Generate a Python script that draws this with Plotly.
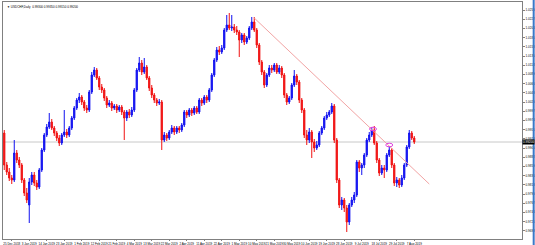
import pandas as pd
import plotly.graph_objects as go

symbol = "USDCHF,Daily"
start_date = "2018-12-20"

open_ = [0.99425,0.98625,0.9845,0.983,0.9825,0.98925,0.9875,0.98625,0.9825,0.97925,
 0.97625,0.982,0.98375,0.98175,0.98075,0.985,0.99,0.99375,0.99575,0.997,
 0.9955,0.99425,0.993,0.99175,0.99375,0.9945,0.99375,0.9955,0.998,1.0005,
 1.0025,1.00325,1.002,1.0005,1.0,1.0045,1.00875,1.01,1.008,1.00575,
 1.005,1.003,1.00125,1.00175,1.0005,1.001,1.0,1.00075,0.9995,0.998,
 0.9995,0.99875,1.0,1.005,1.01,1.01175,1.0095,1.01075,1.008,1.0055,
 1.00375,1.0025,1.00175,1.002,0.9925,0.99375,0.993,0.9945,0.9955,0.9945,
 0.9955,0.995,0.99625,0.9995,0.99875,1.0,0.99925,1.0005,0.9995,1.0025,
 1.00175,1.00325,1.0025,1.005,1.00875,1.0125,1.015,1.0145,1.0155,1.02,
 1.02125,1.0205,1.02075,1.02,1.0195,1.0175,1.01875,1.017,1.018,1.0205,
 1.022,1.02,1.01625,1.012,1.0095,1.00625,1.00875,1.0105,1.01,1.01125,
 1.0095,1.0105,1.00875,1.00375,1.002,1.003,1.00625,1.0085,1.007,1.0025,
 1.0,0.99375,0.9925,0.9945,0.992,0.9905,0.99125,0.99425,0.9955,0.998,
 0.99875,0.9995,1.001,0.9925,0.9825,0.97625,0.9775,0.9755,0.972,0.97625,
 0.9775,0.97875,0.987,0.9855,0.98625,0.98875,0.9925,0.99375,0.995,0.99175,
 0.9875,0.98425,0.9855,0.985,0.98875,0.99,0.98625,0.98175,0.9825,0.98125,
 0.983,0.98625,0.99075,0.99425,0.993]

high = [0.995,0.987,0.9855,0.98375,0.9925,0.99,0.98825,0.98675,0.983,0.9805,
 0.983,0.9845,0.9845,0.9825,0.9855,0.9905,0.99425,0.9965,0.99925,0.99775,
 0.996,0.99475,0.99375,0.99425,1.0,0.99525,0.996,0.9985,1.001,1.003,
 1.00425,1.00375,1.0025,1.00125,1.005,1.0095,1.01075,1.0105,1.0085,1.0065,
 1.0055,1.0035,1.0025,1.00225,1.0015,1.0015,1.00125,1.00125,1.0,1.0,
 1.00025,1.00075,1.0055,1.0105,1.01325,1.0125,1.013,1.01125,1.0085,1.00625,
 1.00425,1.003,1.00275,1.0025,0.9945,0.99425,0.995,0.99625,0.996,0.996,
 0.996,0.99675,1.0,1.0,1.0005,1.0005,1.001,1.001,1.003,1.003,
 1.00375,1.00375,1.0055,1.00925,1.013,1.01575,1.016,1.01625,1.0205,1.02375,
 1.02425,1.02375,1.0215,1.021,1.02,1.01925,1.01925,1.0185,1.021,1.02325,
 1.02325,1.0205,1.01675,1.0125,1.01,1.00925,1.01125,1.01125,1.01175,1.01175,
 1.01125,1.011,1.00925,1.00425,1.0035,1.00675,1.01,1.009,1.0075,1.003,
 1.0005,0.995,0.9955,0.995,0.99275,0.99225,0.99475,0.996,0.9985,0.9995,
 1.0,1.00175,1.0015,0.993,0.983,0.97825,0.978,0.97625,0.97675,0.97825,
 0.9795,0.9875,0.9875,0.98675,0.98925,0.993,0.9945,0.99575,0.996,0.99225,
 0.988,0.98625,0.98625,0.98925,0.991,0.9905,0.98675,0.98325,0.983,0.98375,
 0.98675,0.99125,0.995,0.99475,0.9935]

low = [0.985,0.98375,0.98225,0.9815,0.982,0.98675,0.9855,0.98175,0.9785,0.97675,
 0.97175,0.98125,0.981,0.98,0.98025,0.9845,0.9895,0.99325,0.99525,0.995,
 0.9935,0.99225,0.991,0.99125,0.99325,0.993,0.99325,0.995,0.9975,1.0,
 1.00175,1.00125,0.99975,0.99925,0.9995,1.004,1.00825,1.0075,1.005,1.00425,
 1.00225,1.0005,1.00075,0.99975,1.0,0.99925,0.9995,0.99875,0.9925,0.99725,
 0.998,0.99825,0.9995,1.0045,1.0095,1.00875,1.009,1.0075,1.00475,1.003,
 1.00175,1.001,1.00125,0.99,0.992,0.99225,0.9925,0.994,0.99375,0.994,
 0.99425,0.9945,0.99575,0.998,0.99825,0.9985,0.99875,0.999,0.999,1.001,
 1.00125,1.00175,1.002,1.0045,1.00825,1.012,1.01375,1.014,1.015,1.0195,
 1.02,1.01975,1.01925,1.01875,1.01325,1.01675,1.01625,1.0165,1.0175,1.02,
 1.0195,1.0155,1.01125,1.00875,1.0055,1.00575,1.00825,1.00925,1.0095,1.009,
 1.009,1.008,1.003,1.00125,1.0015,1.0025,1.00575,1.00625,1.00175,0.99925,
 0.993,0.99125,0.99175,0.988,0.9895,0.99,0.99075,0.99375,0.995,0.9975,
 0.99825,0.999,0.99175,0.98175,0.9755,0.975,0.9745,0.9695,0.97125,0.97575,
 0.97675,0.97825,0.9845,0.98375,0.9855,0.98825,0.992,0.99325,0.99125,0.98675,
 0.9835,0.98375,0.983,0.9845,0.98825,0.9855,0.981,0.98075,0.9805,0.98075,
 0.9825,0.98575,0.99025,0.9925,0.9915]

close = [0.98625,0.9845,0.983,0.9825,0.98925,0.9875,0.98625,0.9825,0.97925,0.9775,
 0.982,0.98375,0.98175,0.98075,0.985,0.99,0.99375,0.99575,0.997,0.9955,
 0.99425,0.993,0.99175,0.99375,0.9945,0.99375,0.9955,0.998,1.0005,1.0025,
 1.00325,1.002,1.0005,1.0,1.0045,1.00875,1.01,1.008,1.00575,1.005,
 1.003,1.00125,1.00175,1.0005,1.001,1.0,1.00075,0.9995,0.998,0.9995,
 0.99875,1.0,1.005,1.01,1.01175,1.0095,1.01075,1.008,1.0055,1.00375,
 1.0025,1.00175,1.002,0.9925,0.99375,0.993,0.9945,0.9955,0.9945,0.9955,
 0.995,0.99625,0.9995,0.99875,1.0,0.99925,1.0005,0.9995,1.0025,1.00175,
 1.00325,1.0025,1.005,1.00875,1.0125,1.015,1.0145,1.0155,1.02,1.02125,
 1.0205,1.02075,1.02,1.0195,1.0175,1.01875,1.017,1.018,1.0205,1.022,
 1.02,1.01625,1.012,1.0095,1.00625,1.00875,1.0105,1.01,1.01125,1.0095,
 1.0105,1.00875,1.00375,1.002,1.003,1.00625,1.0085,1.007,1.0025,1.0,
 0.99375,0.9925,0.9945,0.992,0.9905,0.99125,0.99425,0.9955,0.998,0.99875,
 0.9995,1.001,0.9925,0.9825,0.97625,0.9775,0.9755,0.972,0.97625,0.9775,
 0.97875,0.987,0.9855,0.98625,0.98875,0.9925,0.99375,0.995,0.99175,0.9875,
 0.98425,0.9855,0.985,0.98875,0.99,0.98625,0.98175,0.9825,0.98125,0.983,
 0.98625,0.99075,0.99425,0.993,0.992]

# price axis ticks
price_ticks = [1.0250,1.0227,1.0204,1.0181,1.0158,1.0135,1.0112,1.0089,1.0066,1.0043,
 1.0020,0.9997,0.9974,0.9951,0.9928,0.9905,0.9882,0.9859,0.9836,0.9813,
 0.9790,0.9767,0.9744,0.9721,0.9698]

# trend line anchors (bar index, price) and highlighted swing highs
trend_bars = [100, 170]
trend_prices = [1.0230, 0.9815]
mark_bars = [147.5, 154]
mark_prices = [0.99525, 0.99125]

n = len(close)
idx = list(range(n))
dates = pd.bdate_range(start_date, periods=n)
tick_idx = list(range(3, n, 7))
tick_txt = [dates[i].strftime("%-d %b %Y") for i in tick_idx]

BLUE = "#1010f0"
RED = "#f01010"
FONT = "Liberation Sans Narrow, Liberation Sans, Arial"

fig = go.Figure()
fig.add_trace(go.Candlestick(
    x=idx, open=open_, high=high, low=low, close=close,
    increasing=dict(line=dict(color=BLUE, width=1), fillcolor=BLUE),
    decreasing=dict(line=dict(color=RED, width=1), fillcolor=RED),
    whiskerwidth=0, hoverinfo="skip", showlegend=False,
))
fig.add_trace(go.Scatter(
    x=trend_bars, y=trend_prices, mode="lines",
    line=dict(color="#f2a4a4", width=1), hoverinfo="skip", showlegend=False,
))

shapes = []
last = close[-1]
shapes.append(dict(type="line", xref="paper", yref="y", x0=0, x1=1, y0=last, y1=last,
                   line=dict(color="#c8c8c8", width=1), layer="below"))
for b, p in zip(mark_bars, mark_prices):
    shapes.append(dict(type="circle", xref="x", yref="y",
                       x0=b - 1.4, x1=b + 1.4, y0=p - 0.00045, y1=p + 0.00045,
                       line=dict(color="#e040e0", width=1)))
# window frame edge on the far right
shapes.append(dict(type="line", xref="paper", yref="paper", x0=1.0225, x1=1.0225, y0=-0.03, y1=1.01,
                   line=dict(color="#3a78c8", width=2)))

annotations = [
    dict(xref="paper", yref="paper", x=0.004, y=0.995, xanchor="left", yanchor="top",
         text="▼ %s  %.5f %.5f %.5f %.5f" % (symbol, open_[-1], high[-1], low[-1], close[-1]),
         showarrow=False, font=dict(size=3, color="#000", family=FONT)),
    dict(xref="paper", yref="y", x=1.0, y=last, xanchor="left", yanchor="middle",
         text="%.5f" % last, showarrow=False, bgcolor="#000", borderpad=0,
         font=dict(size=3, color="#fff", family=FONT)),
]

fig.update_layout(
    width=535, height=245,
    margin=dict(l=3, r=13, t=2, b=6, autoexpand=False),
    paper_bgcolor="#fff", plot_bgcolor="#fff",
    shapes=shapes, annotations=annotations,
    font=dict(family=FONT, size=3, color="#000"),
    xaxis=dict(range=[-0.5, 207.1], rangeslider=dict(visible=False),
               tickvals=tick_idx, ticktext=tick_txt, tickangle=0, automargin=False,
               showgrid=False, zeroline=False,
               showline=True, mirror=True, linecolor="#808080", linewidth=1,
               ticks="outside", ticklen=1, tickcolor="#808080",
               tickfont=dict(size=3, family=FONT)),
    yaxis=dict(range=[0.96775, 1.0270], side="right", tickvals=price_ticks,
               ticktext=["%.5f" % v for v in price_ticks], automargin=False,
               showgrid=False, zeroline=False, showline=True, mirror=True,
               linecolor="#808080", linewidth=1, ticks="outside", ticklen=2,
               tickcolor="#808080", tickfont=dict(size=3, family=FONT)),
)

fig.write_html("out.html")
